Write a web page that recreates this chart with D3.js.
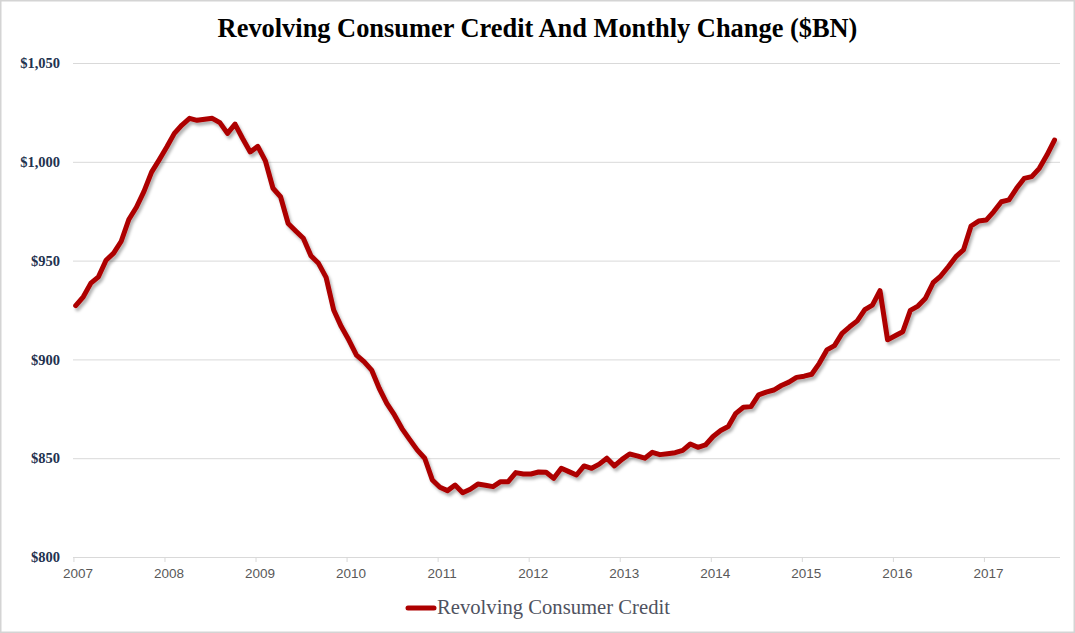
<!DOCTYPE html>
<html>
<head>
<meta charset="utf-8">
<script src="https://cdn.jsdelivr.net/npm/d3@7"></script>
<style>
  html, body { margin: 0; padding: 0; background: #fff; }
  svg { display: block; }
</style>
</head>
<body>
<script>
// ---- data (monthly, Jan 2007 .. Oct 2017), $BN ----
const startYear = 2007;
const credit = [
  927.2, 931.7, 938.6, 941.8, 950.2, 953.8, 959.8, 970.8, 977.0, 985.0, 994.8, 1001.0,
  1007.5, 1014.4, 1018.6, 1022.0, 1021.0, 1021.5, 1022.0, 1019.8, 1014.4, 1019.1, 1011.8, 1005.0,
  1007.8, 1000.5, 986.6, 982.3, 968.8, 965.0, 961.3, 952.5, 948.6, 941.5, 925.0, 916.6,
  909.8, 902.2, 898.9, 894.6, 885.4, 877.8, 871.9, 865.0, 859.5, 854.2, 850.0, 839.0,
  835.3, 833.6, 836.4, 832.5, 834.3, 836.9, 836.3, 835.6, 838.1, 838.1, 842.7, 842.0,
  842.0, 843.0, 842.9, 839.8, 844.9, 843.2, 841.5, 846.1, 844.9, 847.0, 850.0, 846.1,
  849.4, 852.1, 851.2, 850.0, 853.0, 851.8, 852.3, 852.8, 854.0, 857.2, 855.5, 856.7,
  861.0, 864.0, 866.0, 872.7, 875.8, 876.1, 882.0, 883.4, 884.5, 886.8, 888.5, 890.9,
  891.5, 892.5, 898.0, 904.8, 907.0, 913.2, 916.5, 919.5, 925.2, 927.5, 934.8, 909.9,
  912.0, 914.0, 924.8, 927.0, 931.0, 938.8, 942.2, 946.9, 952.0, 955.4, 967.5, 970.0,
  970.5, 974.8, 979.8, 980.7, 986.6, 991.6, 992.5, 996.7, 1003.4, 1011.0
];
const yearLabels = ["2007","2008","2009","2010","2011","2012","2013","2014","2015","2016","2017"];
const yTicks = [800, 850, 900, 950, 1000, 1050];
const titleText = "Revolving Consumer Credit And Monthly Change ($BN)";
const seriesName = "Revolving Consumer Credit";

// ---- layout ----
const W = 1075, H = 633;
const plotL = 73, plotR = 1060, plotT = 63, plotB = 557;
const lineColor = "#ad0000";
const serif = "'Liberation Serif', 'DejaVu Serif', serif";
const sans = "'Liberation Sans', Arial, sans-serif";

const svg = d3.select("body").append("svg").attr("width", W).attr("height", H);

const defs = svg.append("defs");
const f = defs.append("filter").attr("id", "shadow")
  .attr("x", "-5%").attr("y", "-5%").attr("width", "110%").attr("height", "110%");
f.append("feDropShadow").attr("dx", 2).attr("dy", 3).attr("stdDeviation", 1.6)
  .attr("flood-color", "#000").attr("flood-opacity", 0.3);

// frame
svg.append("rect").attr("x", 0.75).attr("y", 0.75).attr("width", W - 1.5).attr("height", H - 1.5)
  .attr("fill", "#fff").attr("stroke", "#d4d4d4").attr("stroke-width", 1.5);

// scales
const x = d3.scaleLinear().domain([0, credit.length - 1]).range([75.7, 1054.5]);
const y = d3.scaleLinear().domain([800, 1050]).range([plotB, plotT]);

// y axis + gridlines
const yAxis = d3.axisLeft(y).tickValues(yTicks)
  .tickSize(-(plotR - plotL)).tickPadding(13)
  .tickFormat(d => "$" + d3.format(",")(d));
const gy = svg.append("g").attr("transform", `translate(${plotL},0)`).call(yAxis);
gy.select(".domain").remove();
gy.selectAll(".tick line").attr("stroke", "#d9d9d9").attr("stroke-width", 1);
gy.selectAll(".tick text")
  .attr("font-family", serif).attr("font-size", "14.5px").attr("font-weight", "bold")
  .attr("fill", "#23324f");

// x axis
const yearIdx = yearLabels.map((d, i) => i * 12 - 0.3);
const xAxis = d3.axisBottom(x).tickValues(yearIdx).tickSize(5).tickPadding(6)
  .tickFormat((d, i) => yearLabels[i]);
const gx = svg.append("g").attr("transform", `translate(0,${plotB})`).call(xAxis);
gx.select(".domain").attr("d", `M${plotL},0.5H${plotR}`).attr("stroke", "#d9d9d9");
gx.selectAll(".tick line").attr("stroke", "#d9d9d9");
gx.selectAll(".tick text")
  .attr("dx", 4)
  .attr("font-family", sans).attr("font-size", "13.5px")
  .attr("fill", "#595959");

// line
const line = d3.line().x((d, i) => x(i)).y(d => y(d)).curve(d3.curveLinear);
svg.append("path").datum(credit)
  .attr("d", line)
  .attr("fill", "none").attr("stroke", lineColor).attr("stroke-width", 5)
  .attr("stroke-linejoin", "round").attr("stroke-linecap", "round")
  .attr("filter", "url(#shadow)");

// title
const title = svg.append("text").text(titleText)
  .attr("x", W / 2).attr("y", 37).attr("text-anchor", "middle")
  .attr("font-family", serif).attr("font-weight", "bold").attr("font-size", "24px")
  .attr("fill", "#000");
const tw = title.node().getComputedTextLength();
title.attr("font-size", (24 * 640 / tw).toFixed(2) + "px");

// legend
const lg = svg.append("g");
lg.append("line").attr("x1", 408).attr("x2", 434).attr("y1", 608).attr("y2", 608)
  .attr("stroke", lineColor).attr("stroke-width", 5).attr("stroke-linecap", "round");
const lt = lg.append("text").text(seriesName)
  .attr("x", 437).attr("y", 614)
  .attr("font-family", serif).attr("font-size", "18px").attr("fill", "#4f5260");
const lw = lt.node().getComputedTextLength();
lt.attr("font-size", (18 * 233 / lw).toFixed(2) + "px");
</script>
</body>
</html>
